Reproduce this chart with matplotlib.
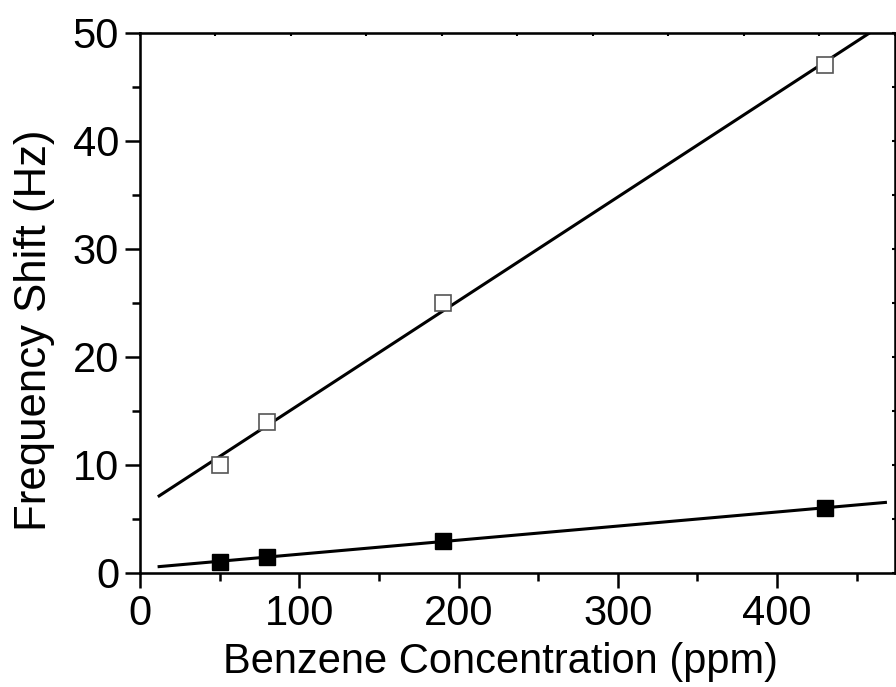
import numpy as np
import matplotlib.pyplot as plt

# benzene concentration (ppm) and frequency shift (Hz)
conc = [50, 80, 190, 430]
shift_open = [10, 14, 25, 47]
shift_filled = [1, 1.5, 3, 6]
x_fit = [12, 468]

plt.rcParams['font.family'] = ['Liberation Sans', 'DejaVu Sans']

fig = plt.figure(figsize=(8.96, 6.87), dpi=100)
ax = fig.add_axes([0.15625, 0.166, 0.8426, 0.786])

xf = np.array(x_fit)
for ys in (shift_open, shift_filled):
    k, b = np.polyfit(conc, ys, 1)
    ax.plot(xf, k * xf + b, color='black', lw=2.2, zorder=2)

ax.plot(conc, shift_open, 's', ms=11, mfc='white', mec='#555555', mew=1.2, zorder=3)
ax.plot(conc, shift_filled, 's', ms=11.5, mfc='black', mec='black', zorder=3)

ax.set_xlim(0, 474)
ax.set_ylim(0, 50)
ax.set_xticks([0, 100, 200, 300, 400])
ax.set_xticks(np.arange(50, 474, 100), minor=True)
ax.set_yticks([0, 10, 20, 30, 40, 50])
ax.set_yticks(np.arange(5, 50, 10), minor=True)
ax.tick_params(which='major', direction='out', length=11, width=1.8, labelsize=30, pad=4)
ax.tick_params(which='minor', direction='out', length=6, width=1.8)
for s in ax.spines.values():
    s.set_linewidth(1.8)

ax.set_xlabel('Benzene Concentration (ppm)', fontsize=30)
ax.set_ylabel('Frequency Shift (Hz)', fontsize=31.5)
ax.xaxis.set_label_coords(0.477, -0.128)
ax.yaxis.set_label_coords(-0.113, 0.45)

# tiny mirror ticks on top and right
top = ax.twiny()
top.set_xlim(0, 1)
top.set_xticks(np.linspace(0, 1, 11))
top.tick_params(direction='in', length=2, width=1.5, labeltop=False)
right = ax.twinx()
right.set_ylim(0, 1)
right.set_yticks(np.linspace(0, 1, 11))
right.tick_params(direction='in', length=2, width=1.5, labelright=False)

fig.savefig('out.png', dpi=100)
